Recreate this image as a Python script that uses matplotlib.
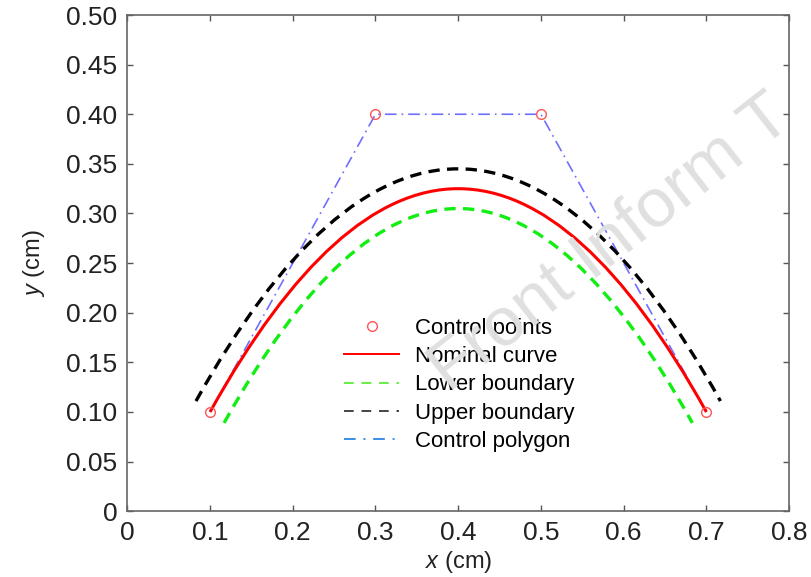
import numpy as np
import matplotlib.pyplot as plt
from matplotlib.path import Path
from matplotlib.patches import PathPatch
from matplotlib.lines import Line2D

plt.rcParams['font.family'] = ['Liberation Sans', 'DejaVu Sans']
plt.rcParams['mathtext.fontset'] = 'custom'
plt.rcParams['mathtext.it'] = 'Liberation Sans:italic'
plt.rcParams['mathtext.rm'] = 'Liberation Sans'

# control points of the nominal Bezier curve
ctrl_x = [0.1, 0.3, 0.5, 0.7]
ctrl_y = [0.1, 0.4, 0.4, 0.1]

# boundary curves (Bezier control points)
upper_x = [0.083, 0.291, 0.509, 0.717]
upper_y = [0.111, 0.423, 0.423, 0.111]
lower_x = [0.117, 0.309, 0.491, 0.683]
lower_y = [0.089, 0.377, 0.377, 0.089]

xticks = [0, 0.1, 0.2, 0.3, 0.4, 0.5, 0.6, 0.7, 0.8]
xtick_labels = ['0', '0.1', '0.2', '0.3', '0.4', '0.5', '0.6', '0.7', '0.8']
yticks = [0, 0.05, 0.1, 0.15, 0.2, 0.25, 0.3, 0.35, 0.4, 0.45, 0.5]
ytick_labels = ['0', '0.05', '0.10', '0.15', '0.20', '0.25', '0.30', '0.35', '0.40', '0.45', '0.50']
labels = ['Control points', 'Nominal curve', 'Lower boundary', 'Upper boundary', 'Control polygon']


def bezier_patch(xs, ys, **kw):
    verts = list(zip(xs, ys))
    codes = [Path.MOVETO, Path.CURVE4, Path.CURVE4, Path.CURVE4]
    return PathPatch(Path(verts, codes), facecolor='none', **kw)


fig = plt.figure(figsize=(8.11, 5.77), dpi=100)
ax = fig.add_axes([0.157, 0.114, 0.816, 0.860])

# watermark
fig.text(0.515, 0.30, 'Front Inform T', fontsize=50, color='#e0e0e0',
         rotation=38, ha='left', va='bottom', zorder=0)

ax.add_patch(bezier_patch(upper_x, upper_y, edgecolor='black', lw=2.4,
                          linestyle=(0, (3.4, 2.2)), zorder=3))
ax.add_patch(bezier_patch(lower_x, lower_y, edgecolor='#11ee11', lw=2.4,
                          linestyle=(0, (3.4, 2.2)), zorder=3))
ax.add_patch(bezier_patch(ctrl_x, ctrl_y, edgecolor='red', lw=2.2, zorder=4))
ax.plot(ctrl_x, ctrl_y, color='#6f6fff', lw=1.2, linestyle=(0, (7, 3, 1, 3)), zorder=2)
ax.plot(ctrl_x, ctrl_y, 'o', mfc='none', mec='#ff5555', ms=7, mew=1.0, zorder=5)

handles = [
    Line2D([], [], marker='o', ls='none', mfc='none', mec='#ff5555', ms=7, mew=1.0),
    Line2D([], [], color='red', lw=1.4),
    Line2D([], [], color='#66ee44', lw=1.4, ls=(0, (5, 4))),
    Line2D([], [], color='#444444', lw=1.4, ls=(0, (5, 4))),
    Line2D([], [], color='#3a8ee6', lw=1.4, ls=(0, (6, 4, 1, 4))),
]
ax.legend(handles, labels, loc='upper left', bbox_to_anchor=(0.327, 0.39),
          frameon=False, fontsize=16, handlelength=2.5, handletextpad=0.7,
          labelspacing=0.33, borderaxespad=0, borderpad=0)

ax.set_xlim(0, 0.8)
ax.set_ylim(0, 0.5)
ax.set_xticks(xticks)
ax.set_xticklabels(xtick_labels)
ax.set_yticks(yticks)
ax.set_yticklabels(ytick_labels)
ax.tick_params(direction='in', length=4, width=1, colors='#555555', labelcolor='#222222',
               labelsize=19, top=True, right=True, pad=7)
for s in ax.spines.values():
    s.set_color('#666666')
    s.set_linewidth(1.2)

ax.set_xlabel(r'$x$ (cm)', fontsize=17, labelpad=3, color='#222222')
ax.set_ylabel(r'$y$ (cm)', fontsize=17, labelpad=14, color='#222222')

fig.savefig('out.png', dpi=100)
